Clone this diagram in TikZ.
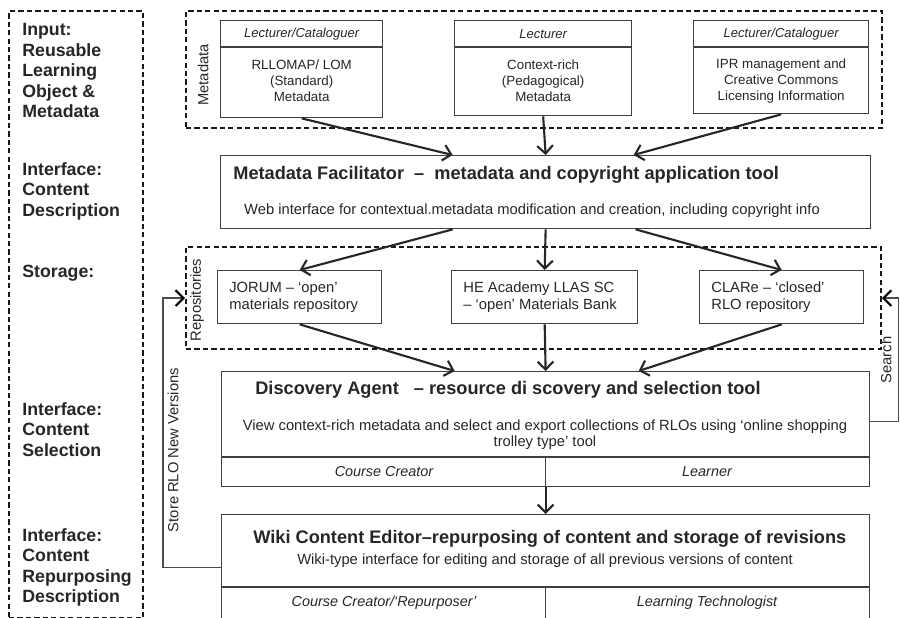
\documentclass[tikz,border=0pt]{standalone}
\usepackage{fontspec}
\setmainfont{Liberation Sans}
\usepackage{tikz}
\usetikzlibrary{arrows.meta}

\tikzset{
    stage/.style={font=\fontsize{10.1}{11.7}\selectfont\bfseries, align=left, anchor=north west, inner sep=0pt},
    group/.style={draw=black!90, line width=1.2pt, dash pattern=on 3pt off 1.8pt, inner sep=0pt, anchor=north west},
    tool/.style={draw=black!75, line width=0.8pt, inner sep=0pt, anchor=north west},
    flow/.style={line width=1.2pt, -{Straight Barb[length=4.5pt,width=9pt]}},
    loop/.style={draw=black!70, line width=0.7pt, -{Straight Barb[length=4.5pt,width=9pt,color=black,line width=1.2pt]}},
    role/.style={font=\fontsize{7.4}{9}\selectfont\itshape, inner sep=0pt},
    user/.style={font=\fontsize{8.2}{9}\selectfont\itshape, inner sep=0pt},
    body/.style={font=\fontsize{7.6}{9.1}\selectfont, align=center, inner sep=0pt},
    store/.style={font=\fontsize{8.4}{9.6}\selectfont, align=left, anchor=west, inner sep=0pt},
    title/.style={font=\fontsize{10.35}{12}\selectfont\bfseries, anchor=west, inner sep=0pt},
    note/.style={font=\fontsize{8.4}{9.2}\selectfont, align=center, inner sep=0pt},
    side/.style={font=\fontsize{8.4}{10}\selectfont, rotate=90, inner sep=0pt},
}

\begin{document}
\begin{tikzpicture}[x=0.02cm, y=-0.02cm, color=black!85]
        \useasboundingbox (0,0) rectangle (900,618);
        \clip (0,0) rectangle (900,618);

        % stages down the left
        \node[group, minimum width=2.68cm, minimum height=12.14cm] (stages) at (8,10) {};
        \node[stage] (input) at (22,23) {Input:\\Reusable\\Learning\\Object \&\\Metadata};
        \node[stage] (describe) at (22,162) {Interface:\\Content\\Description};
        \node[stage] (storage) at (22,265) {Storage:};
        \node[stage] (select) at (22,402) {Interface:\\Content\\Selection};
        \node[stage] (repurpose) at (22,528) {Interface:\\Content\\Repurposing\\Description};

        % metadata sources
        \node[group, minimum width=13.92cm, minimum height=2.34cm] (metadata) at (185,10) {};
        \node[side] (mdlabel) at (203,75) {Metadata};
        \node[tool, minimum width=3.24cm, minimum height=1.94cm] (md1) at (220,20) {};
        \node[tool, minimum width=3.54cm, minimum height=1.9cm] (md2) at (454,20) {};
        \node[tool, minimum width=3.5cm, minimum height=1.86cm] (md3) at (693,20) {};
        \foreach \b in {md1,md2,md3}
            \draw[draw=black!75, line width=0.8pt] (\b.west |- 0,47) -- (\b.east |- 0,47);
        \node[role] (md1role) at (md1.north |- 0,34) {Lecturer/Cataloguer};
        \node[role] (md2role) at (md2.north |- 0,34) {Lecturer};
        \node[role] (md3role) at (md3.north |- 0,34) {Lecturer/Cataloguer};
        \node[body] (md1text) at (md1.north |- 0,81) {RLLOMAP/ LOM\\(Standard)\\Metadata};
        \node[body] (md2text) at (md2.north |- 0,81) {Context-rich\\(Pedagogical)\\Metadata};
        \node[body] (md3text) at (md3.north |- 0,81) {IPR management and\\Creative Commons\\Licensing Information};

        % metadata facilitator
        \node[tool, minimum width=13cm, minimum height=1.46cm] (mf) at (220,155) {};
        \node[title] (mftitle) at (233,175) {Metadata Facilitator \ -- \ metadata and copyright application tool};
        \node[note] (mfnote) at (532,211) {Web interface for contextual.metadata modification and creation, including copyright info};
        \draw[flow] (md1.south) -- ([xshift=-1.86cm]mf.north);
        \draw[flow] (md2.south) -- (mf.north);
        \draw[flow] (md3.south) -- ([xshift=1.76cm]mf.north);

        % repositories
        \node[group, minimum width=13.9cm, minimum height=2.04cm] (repos) at (185,246) {};
        \node[side] (replabel) at (197,300) {Repositories};
        \node[tool, minimum width=3.28cm, minimum height=1.06cm] (repo1) at (217,270) {};
        \node[tool, minimum width=3.72cm, minimum height=1.06cm] (repo2) at (451,270) {};
        \node[tool, minimum width=3.28cm, minimum height=1.06cm] (repo3) at (699,270) {};
        \node[store] (repo1text) at ([xshift=0.24cm]repo1.west) {JORUM -- `open'\\materials repository};
        \node[store] (repo2text) at ([xshift=0.24cm]repo2.west) {HE Academy LLAS SC\\-- `open' Materials Bank};
        \node[store] (repo3text) at ([xshift=0.24cm]repo3.west) {CLARe -- `closed'\\RLO repository};
        \draw[flow] ([xshift=-1.86cm]mf.south) -- (repo1.north);
        \draw[flow] (mf.south) -- (repo2.north);
        \draw[flow] ([xshift=1.8cm]mf.south) -- (repo3.north);

        % discovery agent
        \node[tool, minimum width=12.96cm, minimum height=2.3cm] (da) at (221,371) {};
        \draw[draw=black!75, line width=0.8pt] (da.west |- 0,457) -- (da.east |- 0,457);
        \draw[draw=black!75, line width=0.8pt] (da.south |- 0,457) -- (da.south);
        \node[title] (datitle) at (255,390) {Discovery Agent \ \ -- resource di scovery and selection tool};
        \node[note] (danote) at (545,435) {View context-rich metadata and select and export collections of RLOs using `online shopping\\trolley type' tool};
        \node[user] (darole1) at (384,472) {Course Creator};
        \node[user] (darole2) at (707,472) {Learner};
        \draw[flow] (repo1.south) -- ([xshift=-1.82cm]da.north);
        \draw[flow] (repo2.south) -- (da.north);
        \draw[flow] (repo3.south) -- ([xshift=1.86cm]da.north);

        % wiki content editor
        \node[tool, minimum width=12.96cm, minimum height=2.12cm] (wiki) at (221,514) {};
        \draw[draw=black!75, line width=0.8pt] (wiki.west |- 0,587) -- (wiki.east |- 0,587);
        \draw[draw=black!75, line width=0.8pt] (wiki.south |- 0,587) -- (wiki.south);
        \node[title] (wikititle) at (253,539) {Wiki Content Editor--repurposing of content and storage of revisions};
        \node[note] (wikinote) at (545,561) {Wiki-type interface for editing and storage of all previous versions of content};
        \node[user] (wikirole1) at (384,603) {Course Creator/`Repurposer'};
        \node[user] (wikirole2) at (707,603) {Learning Technologist};
        \draw[flow] (da.south) -- (wiki.north);

        % feedback loops
        \draw[loop] ([yshift=0.15cm]da.east) -- ++(28,0) |- (repos.east);
        \node[side] (search) at (886,360) {Search};
        \draw[loop] (wiki.west) -- ++(-58,0) |- (repos.west);
        \node[side] (storenew) at (173,450) {Store RLO New Versions};
\end{tikzpicture}
\end{document}
